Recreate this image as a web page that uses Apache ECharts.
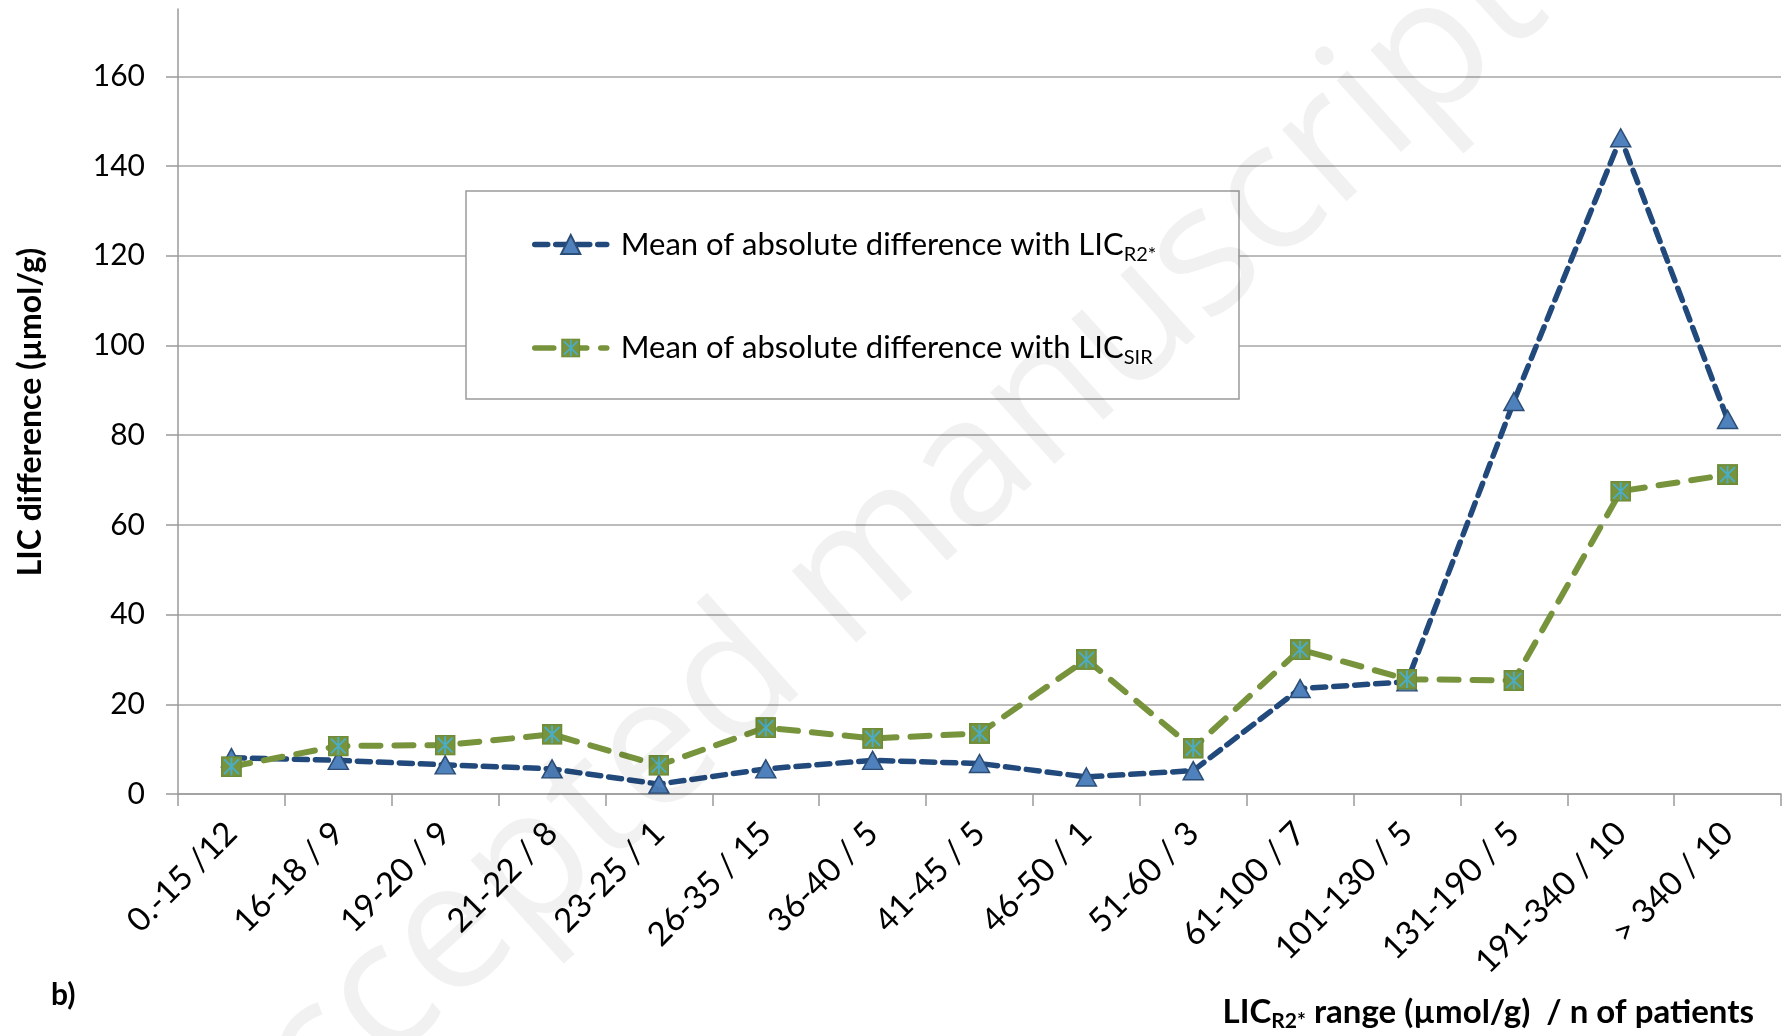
<!DOCTYPE html>
<html>
<head>
<meta charset="utf-8">
<script src="https://cdn.jsdelivr.net/npm/echarts@6/dist/echarts.min.js"></script>
<style>
html,body{margin:0;padding:0;background:#fff;}
#chart{width:1786px;height:1036px;}
</style>
</head>
<body>
<div id="chart"></div>
<script>
// ---- data ----
const categories = ['0.-15 /12','16-18 / 9','19-20 / 9','21-22 / 8','23-25 / 1','26-35 / 15','36-40 / 5','41-45 / 5','46-50 / 1','51-60 / 3','61-100 / 7','101-130 / 5','131-190 / 5','191-340 / 10','> 340 / 10'];
const r2Values  = [8.1, 7.5, 6.5, 5.6, 2.2, 5.6, 7.5, 6.8, 3.8, 5.2, 23.5, 25.0, 87.5, 146.3, 83.5];
const sirValues = [6.1, 10.7, 10.9, 13.3, 6.4, 14.8, 12.4, 13.5, 30.0, 10.2, 32.2, 25.6, 25.3, 67.5, 71.2];
const yTickValues = [0, 20, 40, 60, 80, 100, 120, 140, 160];
const seriesNames = ['Mean of absolute difference with LIC_R2*', 'Mean of absolute difference with LIC_SIR'];

const FONT = 'Lato, "Open Sans", sans-serif';
const sirSvg = "<svg xmlns='http://www.w3.org/2000/svg' width='20' height='20'>" +
  "<rect x='0.75' y='0.75' width='18.5' height='18.5' fill='#77933C' stroke='#6E8C37' stroke-width='1.5'/>" +
  "<path d='M10 1.5V18.5M3 3L17 17M17 3L3 17' stroke='#4BACC6' stroke-width='1.8'/></svg>";
const sirSymbol = 'image://data:image/svg+xml;charset=utf-8,' + encodeURIComponent(sirSvg);

const chart = echarts.init(document.getElementById('chart'), null, {renderer: 'canvas'});
const option = {
  backgroundColor: '#ffffff',
  animation: false,
  grid: {left: 178, right: 5, top: 9, bottom: 242, containLabel: false},
  xAxis: {
    type: 'category',
    data: categories,
    boundaryGap: true,
    axisLine: {show: true, lineStyle: {color: '#9a9a9a', width: 1.5}},
    axisTick: {show: true, alignWithLabel: false, length: 12, lineStyle: {color: '#9a9a9a', width: 1.5}},
    axisLabel: {rotate: 45, margin: 34, fontSize: 33, color: '#000', fontFamily: FONT, interval: 0},
    splitLine: {show: false}
  },
  yAxis: {
    type: 'value',
    min: 0, max: 175,
    axisLine: {show: true, lineStyle: {color: '#9a9a9a', width: 1.5}},
    axisTick: {show: true, length: 12, lineStyle: {color: '#9a9a9a', width: 1.5}, customValues: yTickValues},
    axisLabel: {fontSize: 30, color: '#000', fontFamily: FONT, margin: 33, customValues: yTickValues},
    splitLine: {show: true, lineStyle: {color: '#a6a6a6', width: 1.5}}
  },
  legend: {
    orient: 'vertical',
    left: 527, top: 224,
    itemWidth: 72, itemHeight: 24,
    itemGap: 68,
    z: 10,
    lineStyle: {width: 5.5},
    formatter: function (name) {
      const parts = name.split('_');
      return '{m|' + parts[0] + '}{s|' + parts[1] + '}';
    },
    textStyle: {
      padding: [0, 0, 0, 9],
      rich: {
        m: {fontSize: 31, fontFamily: FONT, color: '#000', lineHeight: 40},
        s: {fontSize: 20, fontFamily: FONT, color: '#000', lineHeight: 22, verticalAlign: 'bottom', padding: [14, 0, 0, 0]}
      }
    },
    data: seriesNames
  },
  graphic: [
    {type: 'rect', z: 5, shape: {x: 466, y: 191, width: 773, height: 208},
     style: {fill: '#ffffff', stroke: '#9a9a9a', lineWidth: 1.5}},
    {type: 'text', z: 5, x: 31, y: 412, rotation: Math.PI / 2,
     style: {text: 'LIC difference (µmol/g)', font: 'bold 32px ' + FONT, fill: '#000', align: 'center', verticalAlign: 'middle'}},
    {type: 'text', z: 5, x: 51, y: 995,
     style: {text: 'b)', font: 'bold 30px ' + FONT, fill: '#000', align: 'left', verticalAlign: 'middle'}},
    {type: 'text', z: 5, x: 1754, y: 1012,
     style: {text: '{b|LIC}{s|R2*}{b| range (µmol/g)  / n of patients}', align: 'right', verticalAlign: 'middle',
       rich: {
         b: {font: 'bold 33px ' + FONT, fill: '#000', lineHeight: 40},
         s: {font: 'bold 21px ' + FONT, fill: '#000', lineHeight: 22, verticalAlign: 'bottom', padding: [14, 0, 0, 0]}
       }}},
    {type: 'text', z: 100, silent: true, x: 860, y: 570, rotation: Math.PI * 42 / 180,
     style: {text: 'Accepted manuscript', font: '180px "Open Sans", sans-serif', fill: 'rgba(0,0,0,0.055)', align: 'center', verticalAlign: 'middle'}}
  ],
  series: [
    {
      name: seriesNames[0],
      type: 'line',
      data: r2Values,
      symbol: 'triangle',
      symbolSize: [20, 18],
      lineStyle: {color: '#22497C', width: 5.5, type: [13, 8], cap: 'round'},
      itemStyle: {color: '#4F81BD', borderColor: '#2C4D75', borderWidth: 1.5},
      z: 2
    },
    {
      name: seriesNames[1],
      type: 'line',
      data: sirValues,
      symbol: sirSymbol,
      symbolSize: 21,
      lineStyle: {color: '#77933C', width: 6, type: [19, 14], cap: 'round'},
      itemStyle: {color: '#77933C'},
      z: 3
    }
  ]
};
chart.setOption(option);
</script>
</body>
</html>
